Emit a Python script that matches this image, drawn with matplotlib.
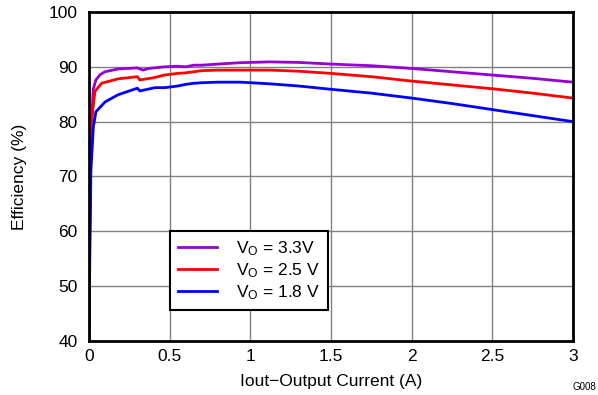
import matplotlib
matplotlib.use("Agg")
import matplotlib.pyplot as plt

plt.rcParams['font.family'] = ['Liberation Sans', 'DejaVu Sans']
plt.rcParams['mathtext.fontset'] = 'custom'
plt.rcParams['mathtext.rm'] = 'Liberation Sans'
plt.rcParams['mathtext.it'] = 'Liberation Sans'

# Output current (A) and efficiency (%)
iout_33 = [0.0, 0.004, 0.01, 0.027, 0.043, 0.07, 0.10, 0.18, 0.30, 0.335, 0.37, 0.47, 0.55,
           0.60, 0.65, 0.70, 0.80, 0.94, 1.12, 1.30, 1.50, 1.75, 2.00, 2.25, 2.50, 2.75, 3.00]
eff_33 = [40.0, 60.0, 77.0, 86.0, 87.6, 88.6, 89.1, 89.6, 89.8, 89.4, 89.7, 90.0, 90.1,
          90.0, 90.3, 90.3, 90.5, 90.75, 90.9, 90.8, 90.5, 90.2, 89.7, 89.1, 88.5, 87.9, 87.2]

iout_25 = [0.0, 0.004, 0.01, 0.02, 0.037, 0.078, 0.18, 0.30, 0.315, 0.40, 0.47, 0.55, 0.60,
           0.65, 0.70, 0.80, 0.94, 1.12, 1.30, 1.50, 1.75, 2.00, 2.25, 2.50, 2.75, 3.00]
eff_25 = [40.0, 57.0, 73.0, 81.0, 85.5, 87.0, 87.8, 88.2, 87.6, 88.0, 88.5, 88.8, 88.9,
          89.1, 89.3, 89.4, 89.4, 89.4, 89.2, 88.8, 88.2, 87.4, 86.7, 86.0, 85.2, 84.3]

iout_18 = [0.0, 0.005, 0.012, 0.027, 0.043, 0.10, 0.18, 0.30, 0.315, 0.41, 0.47, 0.55, 0.60,
           0.65, 0.70, 0.80, 0.94, 1.12, 1.30, 1.50, 1.75, 2.00, 2.25, 2.50, 2.75, 3.00]
eff_18 = [40.0, 55.0, 71.0, 79.0, 81.8, 83.6, 84.9, 86.1, 85.6, 86.2, 86.2, 86.5, 86.8,
          87.0, 87.1, 87.2, 87.2, 86.9, 86.5, 85.9, 85.2, 84.3, 83.3, 82.2, 81.1, 80.0]

labels = [r'V$_\mathrm{O}$ = 3.3V', r'V$_\mathrm{O}$ = 2.5 V', r'V$_\mathrm{O}$ = 1.8 V']
colors = ['#9400D3', '#FF0000', '#0000FF']

fig = plt.figure(figsize=(5.98, 3.95), dpi=100)
ax = fig.add_axes([0.1488, 0.1367, 0.8094, 0.833])

ax.plot(iout_33, eff_33, color=colors[0], lw=2, label=labels[0])
ax.plot(iout_25, eff_25, color=colors[1], lw=2, label=labels[1])
ax.plot(iout_18, eff_18, color=colors[2], lw=2, label=labels[2])

ax.set_xlim(0, 3)
ax.set_ylim(40, 100)
ax.set_xticks([0, 0.5, 1, 1.5, 2, 2.5, 3])
ax.set_xticklabels(['0', '0.5', '1', '1.5', '2', '2.5', '3'])
ax.set_yticks(range(40, 101, 10))
ax.grid(True, color='#808080', lw=1)
ax.tick_params(length=0, labelsize=12.5)
ax.tick_params(axis='y', pad=8)
ax.tick_params(axis='x', pad=6)
for s in ax.spines.values():
    s.set_linewidth(2)
    s.set_color('black')

ax.set_xlabel('Iout\u2212Output Current (A)', fontsize=12.5, labelpad=7)
ax.set_ylabel('Efficiency (%)', fontsize=12.5, labelpad=16)

leg = ax.legend(loc='lower left', bbox_to_anchor=(0.167, 0.093), fontsize=12.5,
                fancybox=False, framealpha=1, edgecolor='black', handlelength=2.2,
                borderpad=0.5, labelspacing=0.18, handletextpad=1.1, borderaxespad=0)
leg.get_frame().set_linewidth(1.5)

fig.text(0.997, 0.008, 'G008', fontsize=7, ha='right', va='bottom')

fig.savefig('out.png', dpi=100)
